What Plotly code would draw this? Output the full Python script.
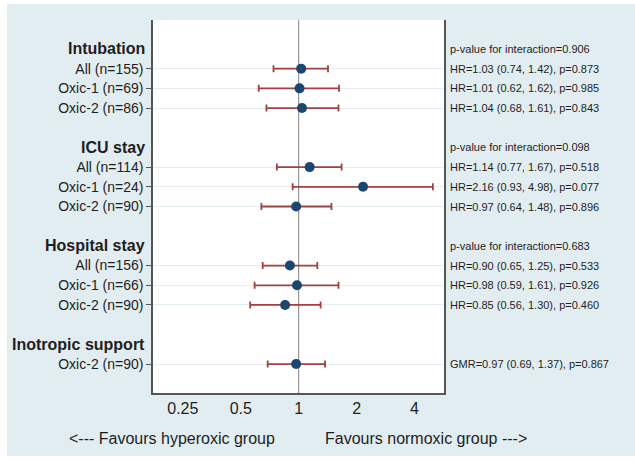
import plotly.graph_objects as go

# ---- data ----
groups = ["Intubation", "ICU stay", "Hospital stay", "Inotropic support"]
group_sizes = [3, 3, 3, 1]
interaction_p = ["0.906", "0.098", "0.683", None]
labels = ["All (n=155)", "Oxic-1 (n=69)", "Oxic-2 (n=86)",
          "All (n=114)", "Oxic-1 (n=24)", "Oxic-2 (n=90)",
          "All (n=156)", "Oxic-1 (n=66)", "Oxic-2 (n=90)",
          "Oxic-2 (n=90)"]
measure = ["HR"] * 9 + ["GMR"]
est = [1.03, 1.01, 1.04, 1.14, 2.16, 0.97, 0.90, 0.98, 0.85, 0.97]
lo = [0.74, 0.62, 0.68, 0.77, 0.93, 0.64, 0.65, 0.59, 0.56, 0.69]
hi = [1.42, 1.62, 1.61, 1.67, 4.98, 1.48, 1.25, 1.61, 1.30, 1.37]
pval = [0.873, 0.985, 0.843, 0.518, 0.077, 0.896, 0.533, 0.926, 0.460, 0.867]
x_ticks = [0.25, 0.5, 1, 2, 4]
x_ticktext = ["0.25", "0.5", "1", "2", "4"]

# ---- layout constants ----
W, H = 635, 461
L, R, T, B = 153, 444, 20, 393
pw, ph = R - L, B - T
BG = "#e2edf1"
NAVY = "#1a476f"
MAROON = "#a0403f"
TXT = "#1e1e1e"
FONT = "Liberation Sans, Arial, sans-serif"

def px2x(px):
    return (px - L) / pw

def py2y(py):
    return (B - py) / ph

# positions
row_y, header_y = [], []
pos = 0
for g, n in zip(groups, group_sizes):
    header_y.append(-pos)
    for k in range(n):
        pos += 1
        row_y.append(-pos)
    pos += 2

fig = go.Figure()
fig.add_trace(go.Scatter(
    x=est, y=row_y, mode="markers",
    marker=dict(color=NAVY, size=10),
    error_x=dict(type="data", symmetric=False,
                 array=[h - e for h, e in zip(hi, est)],
                 arrayminus=[e - l for e, l in zip(est, lo)],
                 color=MAROON, thickness=1.8, width=3.5),
    showlegend=False, hoverinfo="skip"))

annotations = []
for g, hy, ip in zip(groups, header_y, interaction_p):
    annotations.append(dict(x=px2x(147), y=hy, xref="paper", yref="y",
                            text="<b>%s</b>" % g, showarrow=False,
                            xanchor="right", yanchor="middle",
                            font=dict(size=16, color=TXT, family=FONT)))
    if ip is not None:
        annotations.append(dict(x=px2x(448), y=hy, xref="paper", yref="y",
                                text="p-value for interaction=%s" % ip,
                                showarrow=False, xanchor="left", yanchor="middle",
                                font=dict(size=11, color=TXT, family=FONT)))
for m, e, l, h, p, y in zip(measure, est, lo, hi, pval, row_y):
    annotations.append(dict(x=px2x(448), y=y, xref="paper", yref="y",
                            text="%s=%.2f (%.2f, %.2f), p=%.3f" % (m, e, l, h, p),
                            showarrow=False, xanchor="left", yanchor="middle",
                            font=dict(size=11, color=TXT, family=FONT)))
annotations.append(dict(x=px2x(172), y=py2y(438), xref="paper", yref="paper",
                        text="<--- Favours hyperoxic group", showarrow=False,
                        xanchor="center", yanchor="middle",
                        font=dict(size=16, color=TXT, family=FONT)))
annotations.append(dict(x=px2x(426), y=py2y(438), xref="paper", yref="paper",
                        text="Favours normoxic group --->", showarrow=False,
                        xanchor="center", yanchor="middle",
                        font=dict(size=16, color=TXT, family=FONT)))

shapes = [
    dict(type="line", xref="x", yref="paper", x0=1, x1=1, y0=0, y1=1,
         line=dict(color="#808080", width=1), layer="below"),
    # white outer border strips
    dict(type="rect", xref="paper", yref="paper", x0=px2x(-5), x1=px2x(7),
         y0=py2y(470), y1=py2y(-5), fillcolor="white", line=dict(width=0), layer="above"),
    dict(type="rect", xref="paper", yref="paper", x0=px2x(-5), x1=px2x(640),
         y0=py2y(4), y1=py2y(-5), fillcolor="white", line=dict(width=0), layer="above"),
    dict(type="rect", xref="paper", yref="paper", x0=px2x(-5), x1=px2x(640),
         y0=py2y(470), y1=py2y(456), fillcolor="white", line=dict(width=0), layer="above"),
]

fig.update_layout(
    width=W, height=H,
    margin=dict(l=L, r=W - R, t=T, b=H - B, pad=0),
    paper_bgcolor=BG, plot_bgcolor="white",
    font=dict(family=FONT, color=TXT),
    annotations=annotations, shapes=shapes,
    xaxis=dict(type="log", range=[-0.757, 0.755], tickvals=x_ticks,
               ticktext=x_ticktext, showgrid=False, zeroline=False,
               showline=True, linecolor="#555555", linewidth=1.5,
               ticks="", tickfont=dict(size=16, color=TXT, family=FONT)),
    yaxis=dict(range=[-17.47, 1.47], tickvals=row_y, ticktext=labels,
               showgrid=True, gridcolor="#e3edf2", gridwidth=1,
               zeroline=False, showline=True, mirror=True,
               linecolor="#555555", linewidth=1.5,
               ticks="outside", ticklen=5, tickcolor="#555555",
               tickfont=dict(size=14, color=TXT, family=FONT)),
)

fig.write_html("out.html", config={"displayModeBar": False},
               post_script="document.body.style.margin='0';document.body.style.overflow='hidden';")
